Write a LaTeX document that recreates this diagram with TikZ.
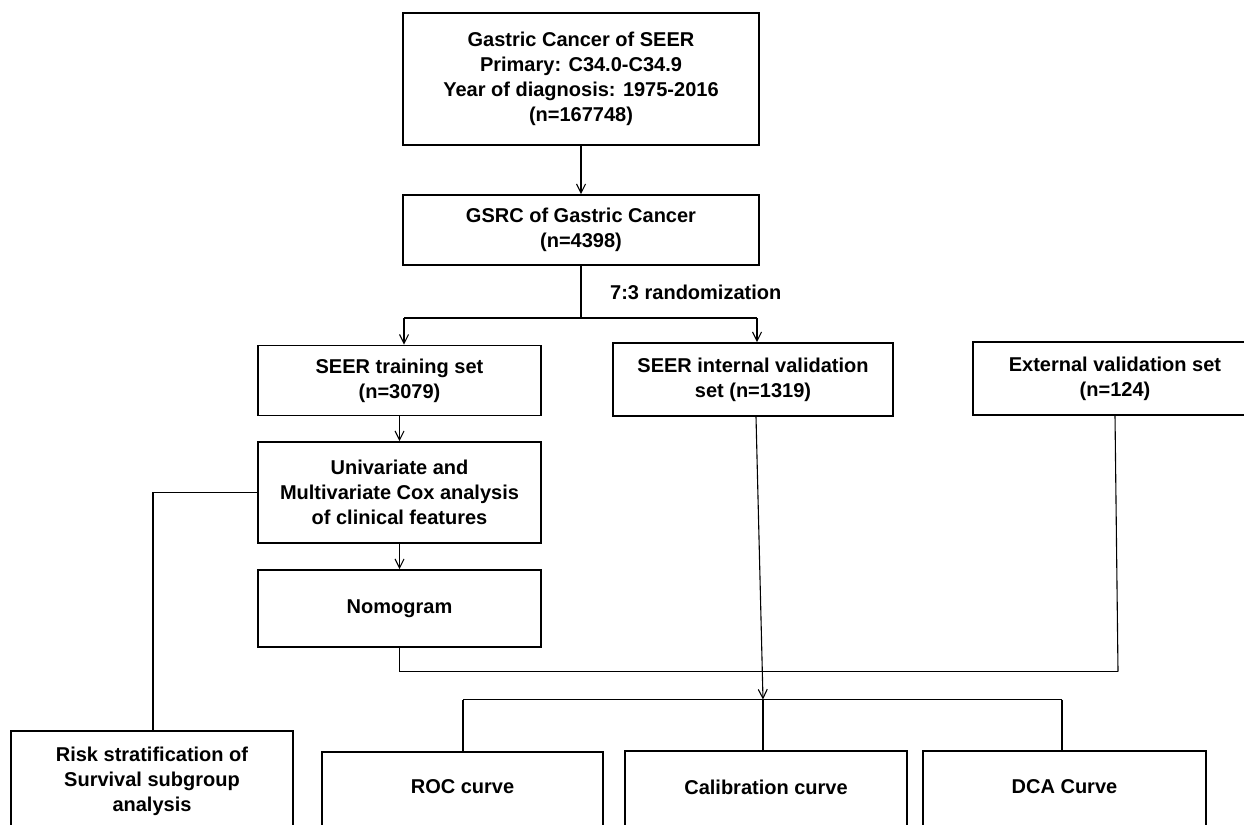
\documentclass[tikz,border=0pt]{standalone}
\usepackage{fontspec}
\setmainfont{Liberation Sans}
\usetikzlibrary{arrows.meta}
\begin{document}
\begin{tikzpicture}[x=1pt,y=-1pt,
  box/.style={draw=black, line width=1.6pt, inner sep=0pt, align=center,
    font=\fontsize{20}{25}\selectfont\bfseries},
  txt/.style={inner sep=0pt, align=center, font=\fontsize{20}{25}\selectfont\bfseries},
  conn/.style={line width=1.1pt},
  thickconn/.style={line width=1.8pt},
  arr/.style={-{Straight Barb[length=9pt,width=9pt,line width=1.1pt]}}]
\useasboundingbox (0,0) rectangle (1244,824);

% boxes
\node[box, minimum width=356pt, minimum height=132pt] (top) at (581,79)
  {Gastric Cancer of SEER\\Primary: C34.0-C34.9\\Year of diagnosis: 1975-2016\\(n=167748)};
\node[box, minimum width=356pt, minimum height=70pt] (gsrc) at (581,230)
  {GSRC of Gastric Cancer\\(n=4398)};
\node[box, minimum width=283pt, minimum height=70pt] (train) at (399.5,380.5)
  {SEER training set\\(n=3079)};
\node[box, minimum width=280pt, minimum height=73pt] (intl) at (753,379.5)
  {SEER internal validation\\set (n=1319)};
\node[box, minimum width=284pt, minimum height=73pt] (ext) at (1115,378.5)
  {External validation set\\(n=124)};
\node[box, minimum width=283pt, minimum height=101pt] (univ) at (399.5,492.5)
  {Univariate and\\Multivariate Cox analysis\\of clinical features};
\node[box, minimum width=283pt, minimum height=77pt] (nomo) at (399.5,608.5)
  {Nomogram};

% bottom boxes (cut by the picture edge)
\node[box, minimum width=282pt, minimum height=150pt, anchor=north] (risk) at (152,730) {};
\node[txt] (risktxt) at (152,781) {Risk stratification of\\Survival subgroup\\analysis};
\node[box, minimum width=281pt, minimum height=150pt, anchor=north] (roc) at (462.5,751) {};
\node[txt] (roctxt) at (462.5,787) {ROC curve};
\node[box, minimum width=282pt, minimum height=150pt, anchor=north] (cal) at (766,750) {};
\node[txt] (caltxt) at (766,787) {Calibration curve};
\node[box, minimum width=283pt, minimum height=150pt, anchor=north] (dca) at (1064.5,750) {};
\node[txt] (dcatxt) at (1064.5,787) {DCA Curve};

% label
\node[txt, anchor=west] (rand) at (610,292) {7:3 randomization};

% connectors
\draw[conn,arr] (top.south) -- (gsrc.north);
\coordinate (split) at (581,318);
\coordinate (sl) at (404,318);
\coordinate (sr) at (757,318);
\draw[thickconn] (gsrc.south) -- (split);
\draw[conn] (sl) -- (sr);
\draw[conn,arr] (sl) -- (sl |- train.north);
\draw[conn,arr] (sr) -- (sr |- intl.north);
\draw[conn,arr] (train.south) -- (univ.north);
\draw[conn,arr] (univ.south) -- (nomo.north);

\coordinate (rk) at (153,492.5);
\draw[conn] (univ.west) -- (rk) -- (rk |- risk.north);

\coordinate (m2) at (1118,671.5);
\draw[thickconn] (nomo.south) |- (m2);
\draw[conn] (m2) -- (ext.south);

\coordinate (b0) at (763,699.5);
\draw[conn,arr] ([xshift=3pt]intl.south) -- (b0);

\coordinate (bl) at (463,699.5);
\coordinate (br) at (1062,699.5);
\draw[conn] (bl) -- (br);
\draw[thickconn] (bl) -- (bl |- roc.north);
\draw[thickconn] (b0) -- (b0 |- cal.north);
\draw[thickconn] (br) -- (br |- dca.north);
\end{tikzpicture}
\end{document}
